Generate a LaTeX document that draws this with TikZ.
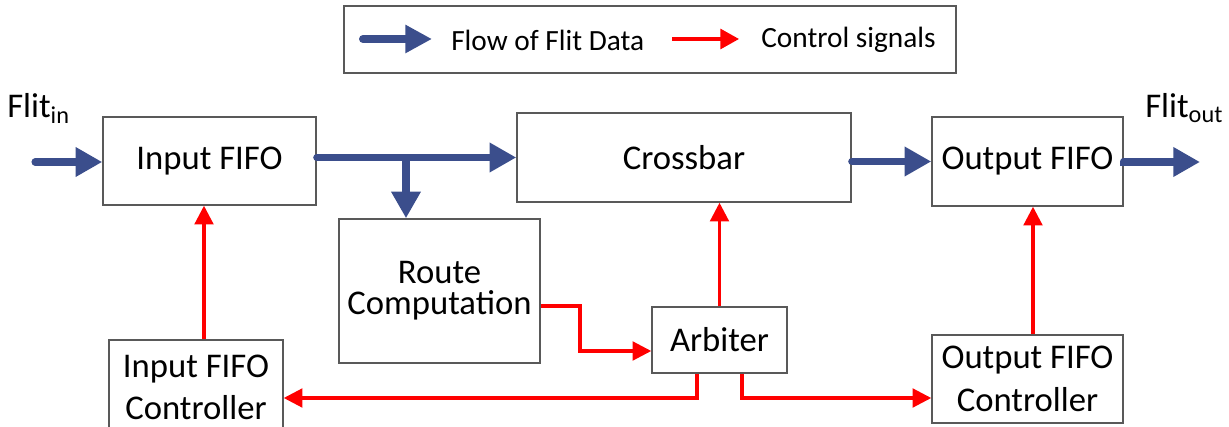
\documentclass[tikz,border=0pt]{standalone}
\usepackage{fontspec}
\setmainfont{Carlito}
\usetikzlibrary{arrows.meta}
\definecolor{flitblue}{RGB}{59,78,140}
\definecolor{ctrlred}{RGB}{255,0,0}
\definecolor{edgegray}{RGB}{89,89,89}
\begin{document}
\begin{tikzpicture}[x=0.75pt,y=-0.75pt,
  blockbox/.style={draw=edgegray,line width=1.1pt,fill=white,align=center,
    font=\fontsize{26}{32}\selectfont,inner sep=0pt},
  dataflow/.style={draw=flitblue,line width=5.3pt,line cap=round,
    -{Triangle[length=20pt,width=21pt]}},
  ctrlflow/.style={draw=ctrlred,line width=2.3pt,
    -{Triangle[length=14pt,width=14pt]}},
  plainlabel/.style={inner sep=0pt,font=\fontsize{26}{30}\selectfont},
  legendlabel/.style={inner sep=0pt,anchor=west,font=\fontsize{22}{26}\selectfont}]
\useasboundingbox (0,0) rectangle (1229,427);

% legend
\node[draw=edgegray,line width=1.1pt,minimum width=459pt,minimum height=50.25pt,inner sep=0pt] (legend) at (650,39.5) {};
\coordinate (lbS) at (363,39);
\coordinate (lbE) at (432,39);
\coordinate (lrS) at (672,39);
\coordinate (lrE) at (739,39);
\draw[dataflow,line width=6pt,-{Triangle[length=20pt,width=20pt]}] (lbS) -- (lbE);
\draw[ctrlflow,-{Triangle[length=14pt,width=15pt]}] (lrS) -- (lrE);
\node[legendlabel] (lbT) at (451,40) {Flow of Flit Data};
\node[legendlabel] (lrT) at (761,40) {Control signals};

% blocks
\node[blockbox,minimum width=159.75pt,minimum height=66pt] (inF) at (209.5,161) {Input FIFO};
\node[blockbox,minimum width=250.5pt,minimum height=66.75pt] (cross) at (684,157.5) {Crossbar};
\node[blockbox,minimum width=143.25pt,minimum height=66.75pt] (outF) at (1027.5,161.5) {Output FIFO};
\node[blockbox,minimum width=150.75pt,minimum height=108pt,font=\fontsize{26}{23.5}\selectfont] (route) at (439.5,291) {Route\\Computation};
\node[blockbox,minimum width=101.25pt,minimum height=49.5pt] (arb) at (719.5,340) {Arbiter};
\node[blockbox,minimum width=143.25pt,minimum height=66pt] (outC) at (1027.5,379) {Output FIFO\\Controller};
\node[blockbox,minimum width=130.5pt,minimum height=71.25pt] (inC) at (196,387.5) {Input FIFO\\Controller};

% external labels
\node[plainlabel,anchor=base west] (flitin) at (7,118) {Flit\textsubscript{in}};
\node[plainlabel,anchor=base west] (flitout) at (1145,118) {Flit\textsubscript{out}};

% flit data path
\coordinate (srcIn) at (35,162);
\coordinate (sinkOut) at (1200,162);
\coordinate (br) at (406,157.5);
\draw[dataflow] (srcIn) -- (srcIn -| inF.west);
\draw[dataflow] (inF.east |- cross.west) -- (cross.west);
\draw[dataflow,line cap=butt] (br) -- (br |- route.north);
\draw[dataflow] (cross.east |- outF.west) -- (outF.west);
\draw[dataflow] (outF.east) -- (sinkOut -| outF.east) -- (sinkOut);

% control signals
\coordinate (cIn) at (204,0);
\coordinate (cOut) at (1033,0);
\coordinate (r1) at (580,306);
\coordinate (r2) at (580,351);
\coordinate (k1) at (697,398);
\coordinate (k2) at (742,398);
\draw[ctrlflow] (cIn |- inC.north) -- (cIn |- inF.south);
\draw[ctrlflow] (route.east |- r1) -- (r1) -- (r2) -- (arb.west |- r2);
\draw[ctrlflow] (arb.north) -- (arb.north |- cross.south);
\draw[ctrlflow] (arb.south -| k1) -- (k1) -- (inC.east |- k1);
\draw[ctrlflow] (arb.south -| k2) -- (k2) -- (outC.west |- k2);
\draw[ctrlflow] (cOut |- outC.north) -- (cOut |- outF.south);
\end{tikzpicture}
\end{document}
